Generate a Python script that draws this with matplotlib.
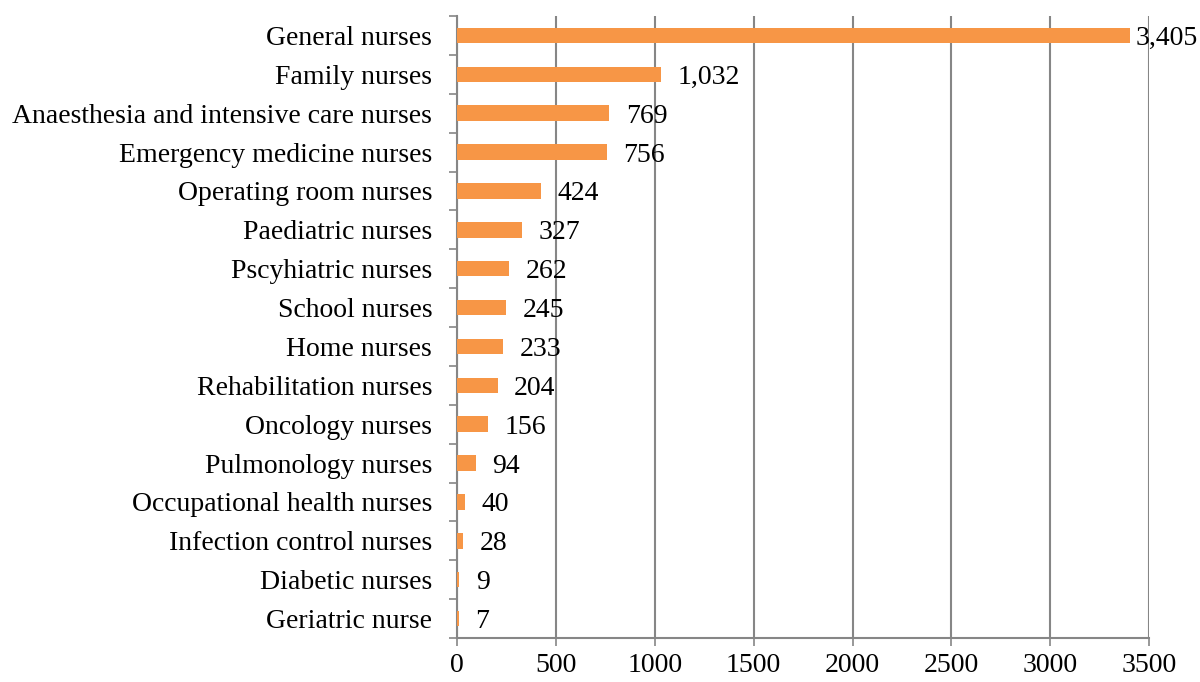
import matplotlib.pyplot as plt
import numpy as np

categories = [
    'General nurses', 'Family nurses', 'Anaesthesia and intensive care nurses',
    'Emergency medicine nurses', 'Operating room nurses', 'Paediatric nurses',
    'Pscyhiatric nurses', 'School nurses', 'Home nurses', 'Rehabilitation nurses',
    'Oncology nurses', 'Pulmonology nurses', 'Occupational health nurses',
    'Infection control nurses', 'Diabetic nurses', 'Geriatric nurse',
]
counts = [3405, 1032, 769, 756, 424, 327, 262, 245, 233, 204, 156, 94, 40, 28, 9, 7]
x_ticks = [0, 500, 1000, 1500, 2000, 2500, 3000, 3500]

plt.rcParams['font.family'] = ['Liberation Serif', 'DejaVu Serif']

fig = plt.figure(figsize=(12, 6.82), dpi=100)
ax = fig.add_axes([0.381, 0.0645, 0.9575 - 0.381, 0.9765 - 0.0645])

n = len(categories)
y = np.arange(n)
ax.barh(y, counts, height=0.4, color='#F79646', zorder=3)

ax.set_xlim(0, 3500)
ax.set_ylim(n - 0.5, -0.5)
ax.set_xticks(x_ticks)
ax.set_xticklabels([str(t) for t in x_ticks], fontsize=20)
ax.set_yticks(y)
ax.set_yticklabels(categories, fontsize=20)
ax.tick_params(axis='y', which='major', length=0, pad=18)
ax.set_yticks(np.arange(-0.5, n, 1), minor=True)
ax.tick_params(axis='y', which='minor', length=6, width=1.2, color='#868686')
ax.tick_params(axis='x', length=6, width=1.2, color='#868686', pad=5)

ax.grid(axis='x', color='#868686', linewidth=1.5, zorder=0)
for s in ['top', 'right']:
    ax.spines[s].set_visible(False)
for s in ['left', 'bottom']:
    ax.spines[s].set_color('#868686')
    ax.spines[s].set_linewidth(1.5)

for i, v in enumerate(counts):
    off = 3.5 if v > 3000 else 12
    ax.annotate(f'{v:,}', xy=(v, i), xytext=(off, 0), textcoords='offset points',
                va='center_baseline', ha='left', fontsize=20, annotation_clip=False, zorder=4)

fig.savefig('out.png', dpi=100)
